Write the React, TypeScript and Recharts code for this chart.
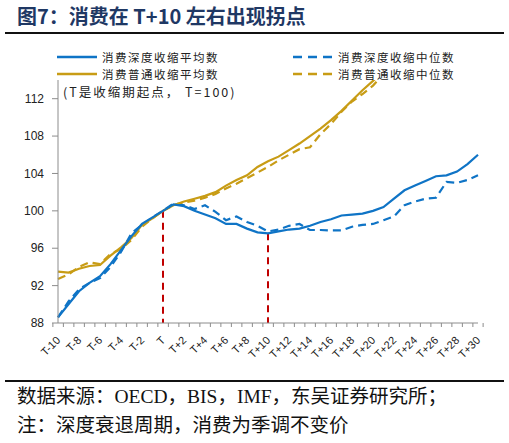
import React from 'react';
import { LineChart, Line, XAxis, YAxis, ReferenceLine } from 'recharts';

const periods = [
  'T-10', 'T-9', 'T-8', 'T-7', 'T-6', 'T-5', 'T-4', 'T-3', 'T-2', 'T-1',
  'T', 'T+1', 'T+2', 'T+3', 'T+4', 'T+5', 'T+6', 'T+7', 'T+8', 'T+9',
  'T+10', 'T+11', 'T+12', 'T+13', 'T+14', 'T+15', 'T+16', 'T+17', 'T+18', 'T+19',
  'T+20', 'T+21', 'T+22', 'T+23', 'T+24', 'T+25', 'T+26', 'T+27', 'T+28', 'T+29', 'T+30',
];

// 消费深度收缩平均数
const deepMean = [
  88.6, 90.0, 91.4, 92.3, 93.0, 94.3, 95.8, 97.3, 98.6, 99.3,
  100.0, 100.7, 100.5, 100.0, 99.6, 99.2, 98.6, 98.6, 98.1, 97.7,
  97.6, 97.8, 98.0, 98.1, 98.4, 98.8, 99.1, 99.5, 99.6, 99.7,
  100.0, 100.4, 101.3, 102.2, 102.7, 103.2, 103.7, 103.8, 104.2, 105.0, 106.0,
];

// 消费深度收缩中位数
const deepMedian = [
  88.6, 90.3, 91.6, 92.3, 92.8, 94.0, 95.6, 97.6, 98.5, 99.3,
  100.0, 100.8, 100.6, 100.2, 100.6, 99.9, 99.0, 99.4, 98.8, 98.4,
  97.8, 98.0, 98.4, 98.6, 97.95, 97.95, 97.9, 97.9, 98.3, 98.5,
  98.6, 99.0, 99.4, 100.6, 101.0, 101.3, 101.4, 103.1, 103.0, 103.3, 103.8,
];

// 消费普通收缩平均数
const normalMean = [
  93.5, 93.4, 93.8, 94.1, 94.2, 95.2, 96.1, 97.1, 98.5, 99.2,
  100.0, 100.6, 101.0, 101.3, 101.6, 102.0, 102.7, 103.3, 103.8, 104.7,
  105.3, 105.8, 106.5, 107.2, 108.0, 108.8, 109.7, 110.7, 111.8, 112.9,
  113.9, 115.0, null, null, null, null, null, null, null, null, null,
];

// 消费普通收缩中位数
const normalMedian = [
  92.7, 93.2, 94.0, 94.5, 94.3, 95.4, 95.9, 96.9, 98.3, 99.2,
  100.0, 100.6, 100.9, 101.1, 101.4, 101.8, 102.4, 102.9, 103.5, 104.1,
  104.7, 105.4, 106.0, 106.6, 106.8, 108.2, 109.3, 110.6, 111.7, 112.5,
  113.4, 114.6, null, null, null, null, null, null, null, null, null,
];

const yTicks = [88, 92, 96, 100, 104, 108, 112];

const BLUE = '#0f74c6';
const GOLD = '#c89c15';
const RED = '#c00000';
const AXIS = '#8c8c8c';
const CJK = '"Noto Sans CJK SC", sans-serif';

const data = periods.map((p, i) => ({
  period: p,
  deepMean: deepMean[i],
  deepMedian: deepMedian[i],
  normalMean: normalMean[i],
  normalMedian: normalMedian[i],
}));

const PLOT_W = 420;
const BAND = PLOT_W / periods.length;

const PeriodTick = (props: any) => {
  const { x, y, payload } = props;
  const idx = periods.indexOf(payload.value);
  const tx = x + 3;
  const ty = y + 18;
  return (
    <g>
      <line x1={x - BAND / 2} y1={y} x2={x - BAND / 2} y2={y + 4} stroke={AXIS} />
      {idx === periods.length - 1 && (
        <line x1={x + BAND / 2} y1={y} x2={x + BAND / 2} y2={y + 4} stroke={AXIS} />
      )}
      {idx % 2 === 0 && (
        <text
          x={tx}
          y={ty}
          textAnchor="end"
          transform={`rotate(-45 ${tx} ${ty})`}
          fontSize={11}
          fill="#222"
          fontFamily="'Liberation Sans', Arial, sans-serif"
        >
          {payload.value}
        </text>
      )}
    </g>
  );
};

const LegendItem = ({ x, y, color, dashed, label }: any) => (
  <div style={{ position: 'absolute', left: x, top: y - 7, height: 14, display: 'flex', alignItems: 'center' }}>
    <svg width={40} height={6} style={{ marginRight: 5 }}>
      <line x1={0} y1={3} x2={40} y2={3} stroke={color} strokeWidth={2.5} strokeDasharray={dashed ? '9 6' : undefined} />
    </svg>
    <span style={{ fontFamily: CJK, fontSize: 11.5, letterSpacing: 1.5, lineHeight: '14px', color: '#222', whiteSpace: 'nowrap' }}>{label}</span>
  </div>
);

export default function App() {
  const t10 = deepMean[periods.indexOf('T+10')];
  return (
    <div style={{ position: 'absolute', left: 0, top: 0, width: 509, height: 443, background: '#fff', overflow: 'hidden' }}>
      <div
        style={{
          position: 'absolute', left: 17, top: 4, fontFamily: '"Noto Sans CJK SC", "Liberation Serif", serif',
          fontWeight: 'bold', fontSize: 20, color: '#1f3864', whiteSpace: 'nowrap', lineHeight: '24px',
        }}
      >
        图7：消费在 T+10 左右出现拐点
      </div>
      <div style={{ position: 'absolute', left: 5, top: 32, width: 499, height: 2, background: '#111' }} />

      <LineChart width={509} height={443} data={data} margin={{ top: 80, right: 31, bottom: 0, left: 0 }}>
        <XAxis
          dataKey="period"
          height={120}
          interval={0}
          tickSize={0}
          tickMargin={0}
          tickLine={false}
          stroke={AXIS}
          tick={<PeriodTick />}
        />
        <YAxis
          width={58}
          domain={[88, 114]}
          ticks={yTicks}
          allowDataOverflow
          stroke={AXIS}
          tickSize={6}
          tickMargin={8}
          tick={{ fill: '#222', fontSize: 12, fontFamily: "'Liberation Sans', Arial, sans-serif" }}
        />
        <ReferenceLine
          segment={[{ x: 'T', y: 100 }, { x: 'T', y: 88 }]}
          stroke={RED}
          strokeWidth={2}
          strokeDasharray="7 5"
        />
        <ReferenceLine
          segment={[{ x: 'T+10', y: t10 }, { x: 'T+10', y: 88 }]}
          stroke={RED}
          strokeWidth={2}
          strokeDasharray="7 5"
        />
        <Line type="linear" dataKey="normalMedian" stroke={GOLD} strokeWidth={2.2} strokeDasharray="8 5" dot={false} isAnimationActive={false} />
        <Line type="linear" dataKey="deepMedian" stroke={BLUE} strokeWidth={2.2} strokeDasharray="8 5" dot={false} isAnimationActive={false} />
        <Line type="linear" dataKey="normalMean" stroke={GOLD} strokeWidth={2.2} dot={false} isAnimationActive={false} />
        <Line type="linear" dataKey="deepMean" stroke={BLUE} strokeWidth={2.2} dot={false} isAnimationActive={false} />
      </LineChart>

      <LegendItem x={57} y={57} color={BLUE} label="消费深度收缩平均数" />
      <LegendItem x={57} y={74} color={GOLD} label="消费普通收缩平均数" />
      <LegendItem x={293} y={57} color={BLUE} dashed label="消费深度收缩中位数" />
      <LegendItem x={293} y={74} color={GOLD} dashed label="消费普通收缩中位数" />
      <div style={{ position: 'absolute', left: 63, top: 83, fontFamily: CJK, fontSize: 12.5, letterSpacing: 2, color: '#222', whiteSpace: 'nowrap', lineHeight: '18px' }}>
        (T是收缩期起点， T=100)
      </div>

      <div style={{ position: 'absolute', left: 5, top: 380, width: 499, height: 2, background: '#111' }} />
      <div style={{ position: 'absolute', left: 17, top: 385, fontFamily: '"Liberation Serif", "Noto Sans CJK SC", serif', fontSize: 19.5, color: '#111', whiteSpace: 'nowrap', lineHeight: '24px' }}>
        数据来源：OECD，BIS，IMF，东吴证券研究所；
      </div>
      <div style={{ position: 'absolute', left: 17, top: 414, fontFamily: '"Liberation Serif", "Noto Sans CJK SC", serif', fontSize: 19.5, color: '#111', whiteSpace: 'nowrap', lineHeight: '24px' }}>
        注：深度衰退周期，消费为季调不变价
      </div>
    </div>
  );
}
